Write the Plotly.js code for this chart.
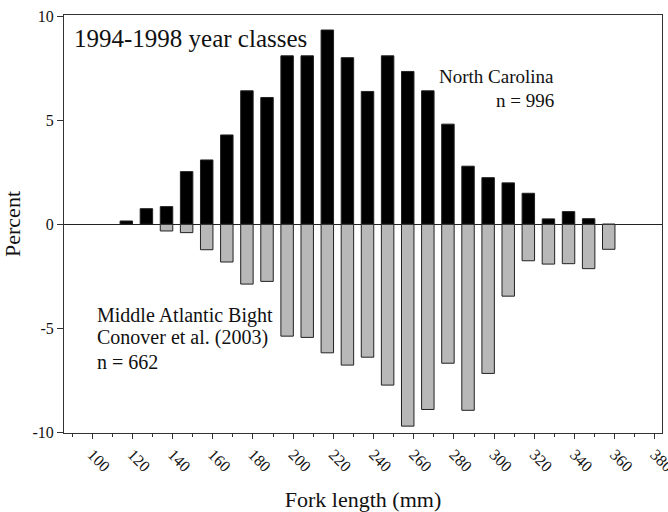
<!DOCTYPE html>
<html>
<head>
<meta charset="utf-8">
<script src="https://cdn.plot.ly/plotly-3.0.1.min.js"></script>
<style>html,body{margin:0;padding:0;background:#fff;}#chart{width:668px;height:512px;}</style>
</head>
<body>
<div id="chart"></div>
<script>
const forkLength = [117,127,137,147,157,167,177,187,197,207,217,227,237,247,257,267,277,287,297,307,317,327,337,347,357];
const northCarolina = [0.16,0.75,0.85,2.53,3.09,4.29,6.41,6.09,8.09,8.09,9.33,8.0,6.38,8.09,7.34,6.41,4.81,2.79,2.24,1.99,1.49,0.26,0.61,0.27,0];
const middleAtlantic = [0,0,-0.32,-0.40,-1.22,-1.81,-2.87,-2.74,-5.37,-5.43,-6.17,-6.76,-6.38,-7.72,-9.69,-8.89,-6.67,-8.93,-7.16,-3.45,-1.75,-1.91,-1.89,-2.13,-1.20];
const xTicks = [100,120,140,160,180,200,220,240,260,280,300,320,340,360,380];
const yTicks = [-10,-5,0,5,10];

const serif = '"Liberation Serif", "Times New Roman", serif';
const traces = [
  {type:'bar', x: forkLength, y: northCarolina, width: 6.2,
   marker:{color:'#000000', line:{color:'#222', width:1}}, name:'North Carolina'},
  {type:'bar', x: forkLength, y: middleAtlantic, width: 6.2,
   marker:{color:'#b8b8b8', line:{color:'#222', width:1}}, name:'Middle Atlantic Bight'}
];
function label(x, y, text, anchor, size) {
  return {xref:'x', yref:'y', x:x, y:y, xanchor:anchor, yanchor:'middle', showarrow:false,
          text:text, font:{family:serif, size:size, color:'#111'}};
}
const layout = {
  width:668, height:512,
  margin:{l:64, r:6, t:15, b:79},
  paper_bgcolor:'#fff', plot_bgcolor:'#fff',
  showlegend:false,
  barmode:'overlay',
  font:{family:serif, color:'#111'},
  xaxis:{range:[86,383.5], tickvals:xTicks, ticktext:xTicks.map(String), tickangle:45,
    ticks:'outside', ticklen:5, tickcolor:'#333', tickwidth:1, ticklabeloverflow:'allow',
    minor:{dtick:10, tick0:0, ticks:'outside', ticklen:3, tickcolor:'#333'},
    showline:true, linecolor:'#333', linewidth:1, mirror:true, showgrid:false, zeroline:false,
    tickfont:{family:serif, size:16, color:'#111'},
    title:{text:'Fork length (mm)', font:{family:serif, size:22, color:'#111'}, standoff:19}},
  yaxis:{range:[-10.02,10.05], tickvals:yTicks, ticktext:yTicks.map(String),
    ticks:'outside', ticklen:6, tickcolor:'#333', tickwidth:1,
    showline:true, linecolor:'#333', linewidth:1, mirror:true, showgrid:false,
    zeroline:true, zerolinecolor:'#222', zerolinewidth:1,
    tickfont:{family:serif, size:16, color:'#111'},
    title:{text:'Percent', font:{family:serif, size:22, color:'#111'}, standoff:10}},
  annotations:[
    label(89.9, 8.94, '1994-1998 year classes', 'left', 25),
    label(331, 7.12, 'North Carolina', 'right', 19),
    label(331, 5.96, 'n = 996', 'right', 19),
    label(101.5, -4.38, 'Middle Atlantic Bight', 'left', 20),
    label(101.5, -5.43, 'Conover et al. (2003)', 'left', 20),
    label(101.5, -6.63, 'n = 662', 'left', 20)
  ]
};
Plotly.newPlot('chart', traces, layout, {displayModeBar:false, staticPlot:true});
</script>
</body>
</html>
